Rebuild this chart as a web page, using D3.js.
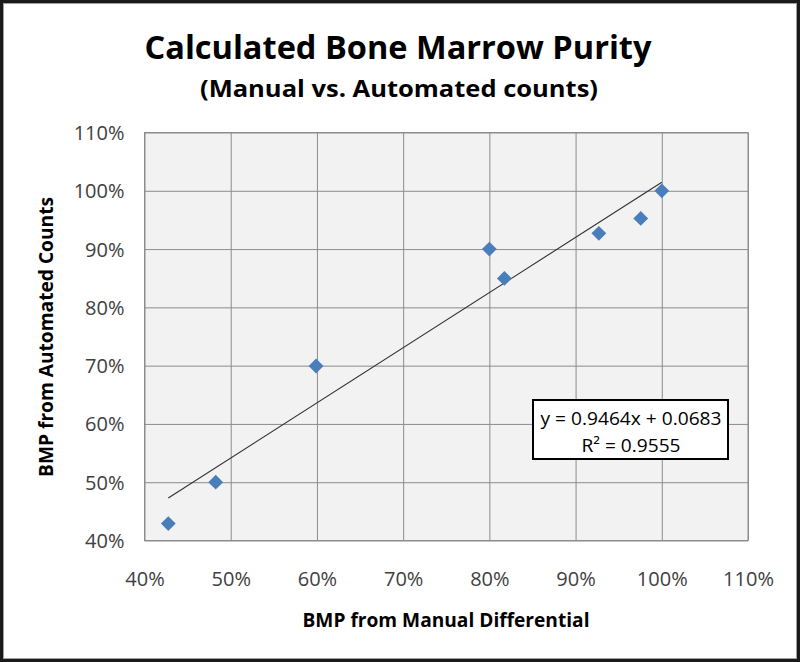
<!DOCTYPE html>
<html>
<head>
<meta charset="utf-8">
<script src="https://cdn.jsdelivr.net/npm/d3@7/dist/d3.min.js"></script>
<style>
  body { margin: 0; background: white; }
  text { font-family: "Open Sans", "DejaVu Sans", sans-serif; }
</style>
</head>
<body>
<div id="chart"></div>
<script>
"use strict"

// values
let manualBmp = [0.4276, 0.4826, 0.599, 0.80, 0.8174, 0.927, 0.9756, 1.00];
let automatedBmp = [0.429, 0.50, 0.6994, 0.90, 0.8497, 0.927, 0.9526, 1.00];
let tickValues = [0.4, 0.5, 0.6, 0.7, 0.8, 0.9, 1.0, 1.1];
let trendSlope = 0.9464;
let trendIntercept = 0.0683;
let trendLabels = ["y = 0.9464x + 0.0683", "R² = 0.9555"];

let width = 800, height = 662;
let plot = { left: 144.5, right: 748, top: 132.5, bottom: 540.5 };

let svg = d3.select("#chart").append("svg")
  .attr("width", width)
  .attr("height", height);

// outer frame
svg.append("rect")
  .attr("x", 0).attr("y", 0)
  .attr("width", width).attr("height", height)
  .style("fill", "white");
svg.append("rect")
  .attr("x", 1.5).attr("y", 1.5)
  .attr("width", width - 3).attr("height", height - 3)
  .style("fill", "none")
  .style("stroke", "#1a1a1a")
  .style("stroke-width", 3);
svg.append("rect")
  .attr("x", 3.5).attr("y", 3.5)
  .attr("width", width - 7).attr("height", height - 7)
  .style("fill", "none")
  .style("stroke", "#a0a0a0")
  .style("stroke-width", 1);

let xScale = d3.scaleLinear()
  .domain([0.4, 1.1])
  .range([plot.left, plot.right]);

let yScale = d3.scaleLinear()
  .domain([0.4, 1.1])
  .range([plot.bottom, plot.top]);

// plot background
svg.append("rect")
  .attr("x", plot.left).attr("y", plot.top)
  .attr("width", plot.right - plot.left)
  .attr("height", plot.bottom - plot.top)
  .style("fill", "#f2f2f2")
  .style("stroke", "#8c8c8c")
  .style("stroke-width", 1);

// grid lines
svg.append("g")
  .attr("transform", "translate(0," + plot.bottom + ")")
  .call(d3.axisBottom(xScale).tickValues(tickValues).tickSize(-(plot.bottom - plot.top)).tickFormat(""))
  .call(g => g.select(".domain").remove())
  .selectAll("line").style("stroke", "#8c8c8c");

svg.append("g")
  .attr("transform", "translate(" + plot.left + ",0)")
  .call(d3.axisLeft(yScale).tickValues(tickValues).tickSize(-(plot.right - plot.left)).tickFormat(""))
  .call(g => g.select(".domain").remove())
  .selectAll("line").style("stroke", "#8c8c8c");

// tick labels
let pct = d3.format(".0%");

let xAxis = svg.append("g")
  .attr("transform", "translate(0," + plot.bottom + ")")
  .call(d3.axisBottom(xScale).tickValues(tickValues).tickSize(0).tickPadding(0).tickFormat(pct));
xAxis.select(".domain").remove();
xAxis.selectAll("text")
  .attr("y", 45)
  .attr("dy", 0)
  .style("font-size", "20px")
  .style("font-family", "'Open Sans', sans-serif")
  .style("fill", "#404040");

let yAxis = svg.append("g")
  .attr("transform", "translate(" + plot.left + ",0)")
  .call(d3.axisLeft(yScale).tickValues(tickValues).tickSize(0).tickPadding(0).tickFormat(pct));
yAxis.select(".domain").remove();
yAxis.selectAll("text")
  .attr("x", -20)
  .attr("dy", "0.35em")
  .style("font-size", "20px")
  .style("font-family", "'Open Sans', sans-serif")
  .style("fill", "#404040");

// trend line
let xExtent = d3.extent(manualBmp);
let trend = xExtent.map(x => [x, trendSlope * x + trendIntercept]);

svg.append("path")
  .datum(trend)
  .attr("d", d3.line().x(d => xScale(d[0])).y(d => yScale(d[1])))
  .style("fill", "none")
  .style("stroke", "#303030")
  .style("stroke-width", 1.1);

// points
let points = manualBmp.map((x, i) => [x, automatedBmp[i]]);

svg.append("g")
  .selectAll("path")
  .data(points)
  .enter().append("path")
  .attr("transform", d => "translate(" + xScale(d[0]) + "," + yScale(d[1]) + ")")
  .attr("d", d3.symbol().type(d3.symbolDiamond2).size(140))
  .style("fill", "#4a7ebb");

// equation box
svg.append("rect")
  .attr("x", 533).attr("y", 400)
  .attr("width", 195).attr("height", 59)
  .style("fill", "white")
  .style("stroke", "black")
  .style("stroke-width", 2);

svg.append("text")
  .attr("x", 631).attr("y", 425)
  .attr("text-anchor", "middle")
  .attr("textLength", 181)
  .attr("lengthAdjust", "spacingAndGlyphs")
  .style("font-size", "18px")
  .style("fill", "black")
  .text(trendLabels[0]);

svg.append("text")
  .attr("x", 631).attr("y", 452)
  .attr("text-anchor", "middle")
  .attr("textLength", 99)
  .attr("lengthAdjust", "spacingAndGlyphs")
  .style("font-size", "18px")
  .style("fill", "black")
  .text(trendLabels[1]);

// titles
svg.append("text")
  .attr("x", 398).attr("y", 59)
  .attr("text-anchor", "middle")
  .attr("textLength", 507)
  .attr("lengthAdjust", "spacingAndGlyphs")
  .style("font-size", "33px")
  .style("font-weight", "bold")
  .style("fill", "black")
  .text("Calculated Bone Marrow Purity");

svg.append("text")
  .attr("x", 399).attr("y", 97)
  .attr("text-anchor", "middle")
  .attr("textLength", 398)
  .attr("lengthAdjust", "spacingAndGlyphs")
  .style("font-size", "23px")
  .style("font-weight", "bold")
  .style("fill", "black")
  .text("(Manual vs. Automated counts)");

svg.append("text")
  .attr("x", 446).attr("y", 627)
  .attr("text-anchor", "middle")
  .attr("textLength", 287)
  .attr("lengthAdjust", "spacingAndGlyphs")
  .style("font-size", "19px")
  .style("font-weight", "bold")
  .style("fill", "black")
  .text("BMP from Manual Differential");

svg.append("text")
  .attr("transform", "translate(53,337) rotate(-90)")
  .attr("text-anchor", "middle")
  .attr("textLength", 280)
  .attr("lengthAdjust", "spacingAndGlyphs")
  .style("font-size", "19px")
  .style("font-weight", "bold")
  .style("fill", "black")
  .text("BMP from Automated Counts");
</script>
</body>
</html>
